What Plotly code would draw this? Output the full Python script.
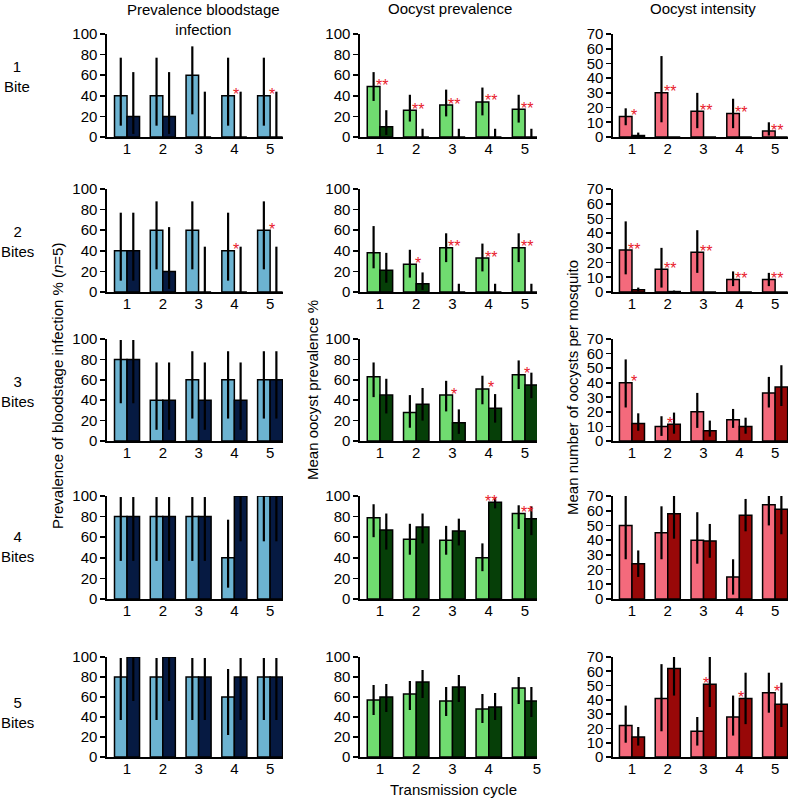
import plotly.graph_objects as go

W, H = 788, 798

# ---------------- data ----------------
cycles = [1, 2, 3, 4, 5]
bite_labels = ["1<br>Bite", "2<br>Bites", "3<br>Bites", "4<br>Bites", "5<br>Bites"]
column_titles = ["Prevalence bloodstage<br>infection", "Oocyst prevalence", "Oocyst intensity"]
y_titles = ["Prevalence of bloodstage infection % (<i>n</i>=5)",
            "Mean oocyst prevalence %",
            "Mean number of oocysts per mosquito"]
x_title = "Transmission cycle"

# Column 1: prevalence of bloodstage infection (rows = bites 1..5, cols = cycle 1..5)
blood_light = [[40, 40, 60, 40, 40],
               [40, 60, 60, 40, 60],
               [80, 40, 60, 60, 60],
               [80, 80, 80, 40, 100],
               [80, 80, 80, 60, 80]]
blood_light_lo = [[11, 11, 22, 11, 11],
                  [11, 22, 22, 11, 22],
                  [37, 11, 22, 22, 22],
                  [37, 37, 37, 11, 56],
                  [37, 37, 37, 22, 37]]
blood_light_hi = [[77, 77, 88, 77, 77],
                  [77, 88, 88, 77, 88],
                  [99, 77, 88, 88, 88],
                  [99, 99, 99, 77, 100],
                  [99, 99, 99, 88, 99]]
blood_dark = [[20, 20, 0, 0, 0],
              [40, 20, 0, 0, 0],
              [80, 40, 40, 40, 60],
              [80, 80, 80, 100, 100],
              [100, 100, 80, 80, 80]]
blood_dark_lo = [[3, 3, 0, 0, 0],
                 [11, 3, 0, 0, 0],
                 [37, 11, 11, 11, 22],
                 [37, 37, 37, 56, 56],
                 [56, 56, 37, 37, 37]]
blood_dark_hi = [[63, 63, 44, 44, 44],
                 [77, 63, 44, 44, 44],
                 [99, 77, 77, 77, 88],
                 [99, 99, 99, 100, 100],
                 [100, 100, 99, 99, 99]]
blood_sig = [["", "", "", "*", "*"],
             ["", "", "", "*", "*"],
             ["", "", "", "", ""],
             ["", "", "", "", ""],
             ["", "", "", "", ""]]

# Column 2: oocyst prevalence
prev_light = [[49, 26, 31, 34, 27],
              [38, 27, 43, 33, 43],
              [63, 28, 45, 51, 65],
              [79, 58, 57, 40, 83],
              [57, 63, 56, 48, 69]]
prev_light_lo = [[35, 15, 20, 21, 14],
                 [23, 14, 29, 20, 29],
                 [43, 13, 29, 36, 51],
                 [60, 43, 43, 27, 68],
                 [42, 47, 41, 34, 53]]
prev_light_hi = [[63, 41, 46, 48, 41],
                 [64, 41, 57, 47, 57],
                 [77, 45, 59, 64, 79],
                 [92, 73, 71, 54, 91],
                 [72, 76, 70, 63, 80]]
prev_dark = [[10, 0, 0, 0, 0],
             [21, 8, 0, 0, 0],
             [45, 36, 18, 32, 55],
             [67, 70, 66, 94, 78],
             [60, 75, 70, 50, 56]]
prev_dark_lo = [[2, 0, 0, 0, 0],
                [9, 2, 0, 0, 0],
                [27, 20, 7, 18, 42],
                [48, 54, 52, 88, 62],
                [45, 59, 55, 37, 40]]
prev_dark_hi = [[26, 8, 8, 8, 8],
                [38, 19, 8, 8, 8],
                [61, 52, 31, 46, 67],
                [83, 83, 78, 98, 90],
                [73, 87, 82, 64, 70]]
prev_sig = [["**", "**", "**", "**", "**"],
            ["", "*", "**", "**", "**"],
            ["", "", "*", "*", "*"],
            ["", "", "", "**", "**"],
            ["", "", "", "", ""]]

# Column 3: oocyst intensity
int_light = [[14, 30, 17.5, 16, 4],
             [28.5, 15.5, 27, 8.5, 8.5],
             [40, 10, 20, 14.5, 33],
             [50, 45, 40, 15, 64],
             [22, 41, 18, 28, 45]]
int_light_lo = [[8, 10, 6, 6, 1],
                [12, 3, 13, 4, 4],
                [23, 3.5, 9, 9, 23],
                [27, 27, 24, 3, 50],
                [10, 18, 8, 15, 31]]
int_light_hi = [[19.5, 55, 30, 26, 10],
                [48, 30, 42, 14, 13],
                [56, 17, 33, 22, 44],
                [70, 63, 59, 27, 70],
                [36, 65, 28, 43, 59]]
int_dark = [[1, 0, 0, 0, 0],
            [1.5, 0.3, 0, 0, 0],
            [12, 11.5, 7, 10, 37],
            [24, 58, 39.5, 57, 61],
            [14, 62, 51, 41, 37]]
int_dark_lo = [[0, 0, 0, 0, 0],
               [0.5, 0, 0, 0, 0],
               [7, 5, 3, 5, 24],
               [15, 41, 28, 46, 44],
               [8, 43, 35, 23, 21]]
int_dark_hi = [[3, 0, 0, 0, 0],
               [3, 1, 0, 0, 0],
               [19, 19.5, 14, 16, 52],
               [33, 70, 51, 68, 70],
               [21, 70, 70, 59, 52]]
int_sig = [["*", "**", "**", "**", "**"],
           ["**", "**", "**", "**", "**"],
           ["*", "*", "", "", ""],
           ["", "", "", "", ""],
           ["", "", "*", "*", "*"]]

# ---------------- styling / layout ----------------
FONT = "Liberation Sans, Arial, Helvetica, sans-serif"
columns = [
    dict(light=blood_light, llo=blood_light_lo, lhi=blood_light_hi,
         dark=blood_dark, dlo=blood_dark_lo, dhi=blood_dark_hi, sig=blood_sig,
         c_light="#6CB3D1", c_dark="#061A42", ymax=100, ystep=20,
         xpx=(107, 283), xr=(0.44, 5.36)),
    dict(light=prev_light, llo=prev_light_lo, lhi=prev_light_hi,
         dark=prev_dark, dlo=prev_dark_lo, dhi=prev_dark_hi, sig=prev_sig,
         c_light="#70DC70", c_dark="#063F08", ymax=100, ystep=20,
         xpx=(360, 537), xr=(0.45, 5.33)),
    dict(light=int_light, llo=int_light_lo, lhi=int_light_hi,
         dark=int_dark, dlo=int_dark_lo, dhi=int_dark_hi, sig=int_sig,
         c_light="#F46A7C", c_dark="#980808", ymax=70, ystep=10,
         xpx=(613, 788), xr=(0.47, 5.36)),
]
row_px = [(34, 137), (189, 292), (339, 441), (496, 599), (657, 757)]


def fx(p):
    return p / W


def fy(p):
    return 1 - p / H


fig = go.Figure()
annotations = []
layout_axes = {}

for r in range(5):
    for c, col in enumerate(columns):
        k = r * 3 + c + 1
        xa = "x" if k == 1 else f"x{k}"
        ya = "y" if k == 1 else f"y{k}"
        L = col["light"][r]
        D = col["dark"][r]
        for vals, lo, hi, color, grp in [
            (L, col["llo"][r], col["lhi"][r], col["c_light"], "a"),
            (D, col["dlo"][r], col["dhi"][r], col["c_dark"], "b"),
        ]:
            fig.add_trace(go.Bar(
                x=cycles, y=vals, xaxis=xa, yaxis=ya, offsetgroup=grp,
                marker=dict(color=color, line=dict(color="black", width=1.5)),
                error_y=dict(type="data", symmetric=False,
                             array=[h - v for h, v in zip(hi, vals)],
                             arrayminus=[v - l for v, l in zip(vals, lo)],
                             width=0, thickness=2.2, color="black"),
                showlegend=False, hoverinfo="skip"))
        for i, s in enumerate(col["sig"][r]):
            if s:
                annotations.append(dict(
                    x=cycles[i], y=max(L[i], D[i]), xref=xa, yref=ya,
                    text=s, showarrow=False, xanchor="center", yanchor="middle",
                    xshift=2, yshift=1,
                    font=dict(color="#E8202A", size=16, family=FONT)))

        tickvals = list(cycles)
        ticktext = [str(v) for v in cycles]
        if r == 4 and c == 1:
            tickvals = cycles[:4] + [col["xr"][1]]
        key_x = "xaxis" if k == 1 else f"xaxis{k}"
        key_y = "yaxis" if k == 1 else f"yaxis{k}"
        layout_axes[key_x] = dict(
            domain=[fx(col["xpx"][0]), fx(col["xpx"][1])], range=list(col["xr"]),
            anchor=ya, tickmode="array", tickvals=tickvals, ticktext=ticktext,
            ticks="", showline=True, linecolor="black", linewidth=1.6,
            showgrid=False, zeroline=False, automargin=False,
            ticklabelstandoff=-3,
            tickfont=dict(size=15, color="black", family=FONT), fixedrange=True)
        layout_axes[key_y] = dict(
            domain=[fy(row_px[r][1]), fy(row_px[r][0])], range=[0, col["ymax"]],
            anchor=xa, tickmode="array",
            tickvals=list(range(0, col["ymax"] + 1, col["ystep"])),
            ticks="outside", ticklen=5, tickwidth=1.6, tickcolor="black",
            showline=True, linecolor="black", linewidth=1.6,
            showgrid=False, zeroline=False, automargin=False,
            tickfont=dict(size=15, color="black", family=FONT), fixedrange=True)

# column titles
title_pos = [(203, 19), (450, 9), (703, 9)]
for t, (px, py) in zip(column_titles, title_pos):
    annotations.append(dict(x=fx(px), y=fy(py), xref="paper", yref="paper", text=t,
                            showarrow=False, xanchor="center", yanchor="middle",
                            font=dict(size=15, color="black", family=FONT)))
# row labels
row_label_y = [76, 242, 391, 546, 712]
for t, py in zip(bite_labels, row_label_y):
    annotations.append(dict(x=fx(17), y=fy(py), xref="paper", yref="paper", text=t,
                            showarrow=False, xanchor="center", yanchor="middle",
                            font=dict(size=15, color="black", family=FONT)))
# y-axis titles
ytitle_pos = [(58, 386), (312, 390), (572, 388)]
for t, (px, py) in zip(y_titles, ytitle_pos):
    annotations.append(dict(x=fx(px), y=fy(py), xref="paper", yref="paper", text=t,
                            textangle=-90, showarrow=False, xanchor="center",
                            yanchor="middle",
                            font=dict(size=15, color="black", family=FONT)))
# x title
annotations.append(dict(x=fx(453), y=fy(789), xref="paper", yref="paper", text=x_title,
                        showarrow=False, xanchor="center", yanchor="middle",
                        font=dict(size=15, color="black", family=FONT)))

fig.update_layout(
    width=W, height=H, margin=dict(l=0, r=0, t=0, b=0, pad=0, autoexpand=False),
    paper_bgcolor="white", plot_bgcolor="white",
    barmode="group", bargap=0.3, bargroupgap=0,
    font=dict(family=FONT, color="black"),
    annotations=annotations, showlegend=False, hovermode=False,
    **layout_axes)

fig.write_html("out.html",
               config={"displayModeBar": False, "staticPlot": True},
               post_script="document.body.style.margin='0px';"
                           "document.body.style.overflow='hidden';")
